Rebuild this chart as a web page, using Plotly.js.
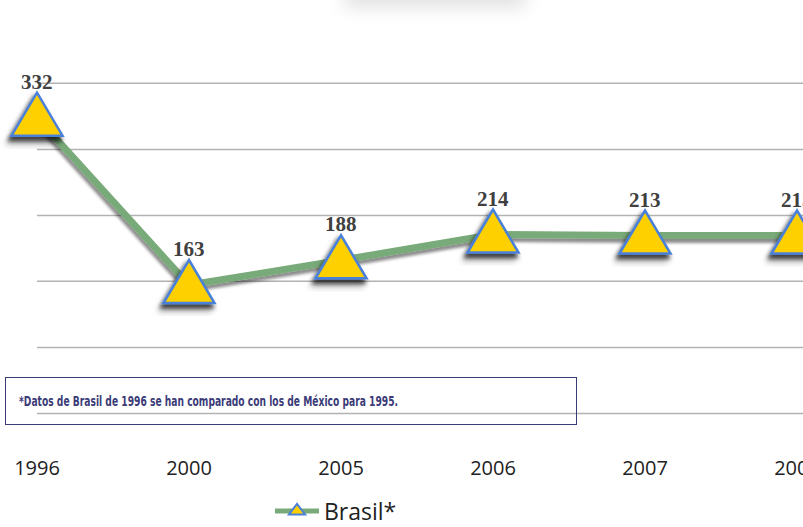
<!DOCTYPE html>
<html>
<head>
<meta charset="utf-8">
<script src="https://cdn.plot.ly/plotly-3.0.1.min.js"></script>
<style>
html,body{margin:0;padding:0;background:#fff;}
#chart{width:803px;height:527px;}
</style>
</head>
<body>
<div id="chart"></div>
<script>
// ---- data ----
const years = ['1996', '2000', '2005', '2006', '2007', '2008'];
const values = [332, 163, 188, 214, 213, 213];
const gridValues = [33.3, 100, 166.7, 233.3, 300, 366.7];
const seriesName = 'Brasil*';
const noteText = '*Datos de Brasil de 1996 se han comparado con los de México para 1995.';

// ---- styles ----
const lineGreen = '#79aa79';
const triFill = '#ffd000';
const triEdge = '#4a80d8';
const xRange = [-37 / 152, (803 - 37) / 152];
const yRange = [0.4, 450.9];
const triPath = 'M-25.5,-18L25.5,-18L0,25Z';

const idx = years.map((_, i) => i);

const traces = [
  {
    x: years, y: values, type: 'scatter', mode: 'lines',
    line: {color: lineGreen, width: 7}, showlegend: false, hoverinfo: 'skip', cliponaxis: false
  },
  {
    x: [null], y: [null], type: 'scatter', mode: 'lines+markers', name: seriesName,
    line: {color: lineGreen, width: 5},
    marker: {symbol: 'triangle-up', size: 14, color: triFill, line: {color: triEdge, width: 2}},
    showlegend: true
  }
];

const shapes = [];
gridValues.forEach(g => shapes.push({
  type: 'line', xref: 'x', yref: 'y', x0: 0, x1: xRange[1], y0: g, y1: g,
  line: {color: '#b2b2b2', width: 1.5}, layer: 'below'
}));
const blurIndex = shapes.length;
shapes.push({
  type: 'rect', xref: 'paper', yref: 'paper', x0: 345 / 803, x1: 525 / 803,
  y0: 1 - 6 / 446, y1: 1 + 14 / 446, fillcolor: '#dcdcdc', line: {width: 0}, layer: 'below'
});
const triStart = shapes.length;
idx.forEach(i => shapes.push({
  type: 'path', xref: 'x', yref: 'y', xsizemode: 'pixel', ysizemode: 'pixel',
  xanchor: i, yanchor: values[i], path: triPath,
  fillcolor: triFill, line: {color: triEdge, width: 2.5}, layer: 'above'
}));

const annotations = idx.map(i => ({
  x: i, y: values[i], xref: 'x', yref: 'y', text: String(values[i]), showarrow: false,
  yanchor: 'bottom', xanchor: 'center', yshift: 22,
  font: {family: 'Liberation Serif, serif', size: 21, color: '#404040', weight: 'bold'}
}));
annotations.push({
  xref: 'paper', yref: 'paper', x: 5 / 803, y: (446 - 377) / 446, xanchor: 'left', yanchor: 'top',
  text: '<b>' + noteText + '</b>', showarrow: false, align: 'left', valign: 'middle',
  width: 544, height: 20, borderpad: 13, bordercolor: '#3b3b78', borderwidth: 1,
  font: {family: 'DejaVu Sans Condensed, sans-serif', size: 13.5, color: '#3b3b78'}
});

const layout = {
  width: 803, height: 527,
  margin: {l: 0, r: 0, t: 0, b: 81, pad: 0, autoexpand: false},
  paper_bgcolor: '#fff', plot_bgcolor: '#fff',
  xaxis: {
    type: 'category', range: xRange, showgrid: false, zeroline: false, showline: false,
    automargin: false, ticklabelstandoff: 8,
    ticks: '', tickfont: {family: 'Open Sans', size: 20, color: '#222'}, fixedrange: true
  },
  yaxis: {
    range: yRange, showgrid: false, zeroline: false, showline: false, showticklabels: false,
    automargin: false, ticks: '', fixedrange: true
  },
  shapes: shapes,
  annotations: annotations,
  showlegend: true,
  legend: {
    orientation: 'h', xref: 'container', yref: 'container',
    x: 270 / 803, xanchor: 'left', y: 1 - 511 / 527, yanchor: 'middle',
    itemwidth: 44,
    font: {family: 'Open Sans', size: 23, color: '#222'}, bgcolor: 'rgba(0,0,0,0)'
  }
};

const gd = document.getElementById('chart');
Plotly.newPlot(gd, traces, layout, {displayModeBar: false, staticPlot: true}).then(() => {
  const NS = 'http://www.w3.org/2000/svg';
  const svg = gd.querySelector('svg.main-svg');
  let defs = svg.querySelector('defs');
  if (!defs) { defs = document.createElementNS(NS, 'defs'); svg.insertBefore(defs, svg.firstChild); }
  function addShadow(id, dx, dy, sd, op) {
    const f = document.createElementNS(NS, 'filter');
    f.setAttribute('id', id);
    f.setAttribute('x', '-30%'); f.setAttribute('y', '-30%');
    f.setAttribute('width', '160%'); f.setAttribute('height', '160%');
    const d = document.createElementNS(NS, 'feDropShadow');
    d.setAttribute('dx', dx); d.setAttribute('dy', dy);
    d.setAttribute('stdDeviation', sd);
    d.setAttribute('flood-color', '#000'); d.setAttribute('flood-opacity', op);
    f.appendChild(d); defs.appendChild(f);
  }
  addShadow('shLine', -1, 4, 1.5, 0.45);
  addShadow('shTri', -2, 4, 2, 0.5);
  const fb = document.createElementNS(NS, 'filter');
  fb.setAttribute('id', 'blurTop');
  fb.setAttribute('x', '-50%'); fb.setAttribute('y', '-100%');
  fb.setAttribute('width', '200%'); fb.setAttribute('height', '300%');
  const gb = document.createElementNS(NS, 'feGaussianBlur');
  gb.setAttribute('stdDeviation', '7');
  fb.appendChild(gb); defs.appendChild(fb);

  gd.querySelectorAll('.scatterlayer .js-line').forEach(p => p.setAttribute('filter', 'url(#shLine)'));
  const setF = (k, id) => {
    gd.querySelectorAll('.shapelayer [data-index="' + k + '"]').forEach(el => el.setAttribute('filter', 'url(#' + id + ')'));
  };
  setF(blurIndex, 'blurTop');
  idx.forEach(i => setF(triStart + i, 'shTri'));

  // compress the footnote to the width it has in the reference
  const noteIdx = annotations.length - 1;
  const noteEl = gd.querySelector('.annotation[data-index="' + noteIdx + '"] text.annotation-text');
  if (noteEl) {
    noteEl.setAttribute('textLength', '379');
    noteEl.setAttribute('lengthAdjust', 'spacingAndGlyphs');
  }
});
</script>
</body>
</html>
